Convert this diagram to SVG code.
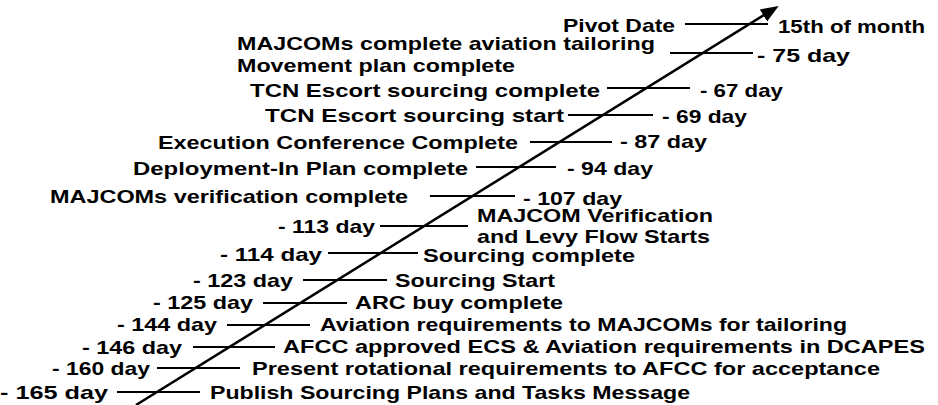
<svg xmlns="http://www.w3.org/2000/svg" width="938" height="405" viewBox="0 0 938 405">
<style>
text{font-family:"Liberation Sans",Arial,Helvetica,sans-serif;font-weight:bold;font-size:19px;fill:#000}
.tick{stroke:#000;stroke-width:2}
.axis{stroke:#000;stroke-width:2.5;fill:none}
</style>
<defs>
<marker id="ah" markerUnits="userSpaceOnUse" markerWidth="19" markerHeight="15" refX="6" refY="7" orient="auto">
<path d="M0,0 L18,7 L0,14 z" fill="#000"/>
</marker>
</defs>
<rect width="938" height="405" fill="#fff"/>
<g id="connectors">
<line class="axis" x1="136" y1="405" x2="768.5" y2="12.3" marker-end="url(#ah)"/>
<line class="tick" x1="685" y1="24" x2="768" y2="24"/>
<line class="tick" x1="670" y1="53" x2="753" y2="53"/>
<line class="tick" x1="607" y1="88" x2="690" y2="88"/>
<line class="tick" x1="568" y1="115" x2="653" y2="115"/>
<line class="tick" x1="530" y1="142" x2="612" y2="142"/>
<line class="tick" x1="476" y1="167" x2="556" y2="167"/>
<line class="tick" x1="430" y1="196" x2="515" y2="196"/>
<line class="tick" x1="380" y1="226" x2="468" y2="226"/>
<line class="tick" x1="328" y1="253" x2="418" y2="253"/>
<line class="tick" x1="303" y1="280" x2="387" y2="280"/>
<line class="tick" x1="263" y1="303" x2="347" y2="303"/>
<line class="tick" x1="227" y1="325" x2="310" y2="325"/>
<line class="tick" x1="193" y1="347" x2="275" y2="347"/>
<line class="tick" x1="157" y1="368" x2="240" y2="368"/>
<line class="tick" x1="117" y1="392" x2="200" y2="392"/>
</g>
<g id="pivot"><text x="563" y="32" textLength="112" lengthAdjust="spacingAndGlyphs">Pivot Date</text><text x="778" y="33" textLength="147" lengthAdjust="spacingAndGlyphs">15th of month</text></g>
<g id="d75"><text x="237" y="50" textLength="418" lengthAdjust="spacingAndGlyphs">MAJCOMs complete aviation tailoring</text><text x="237" y="72" textLength="278" lengthAdjust="spacingAndGlyphs">Movement plan complete</text><text x="757" y="62" textLength="93" lengthAdjust="spacingAndGlyphs">- 75 day</text></g>
<g id="d67"><text x="250" y="97" textLength="350" lengthAdjust="spacingAndGlyphs">TCN Escort sourcing complete</text><text x="700" y="97" textLength="83" lengthAdjust="spacingAndGlyphs">- 67 day</text></g>
<g id="d69"><text x="265" y="122" textLength="299" lengthAdjust="spacingAndGlyphs">TCN Escort sourcing start</text><text x="662" y="123" textLength="85" lengthAdjust="spacingAndGlyphs">- 69 day</text></g>
<g id="d87"><text x="158" y="149" textLength="360" lengthAdjust="spacingAndGlyphs">Execution Conference Complete</text><text x="620" y="148" textLength="87" lengthAdjust="spacingAndGlyphs">- 87 day</text></g>
<g id="d94"><text x="133" y="175" textLength="335" lengthAdjust="spacingAndGlyphs">Deployment-In Plan complete</text><text x="567" y="175" textLength="86" lengthAdjust="spacingAndGlyphs">- 94 day</text></g>
<g id="d107"><text x="50" y="203" textLength="358" lengthAdjust="spacingAndGlyphs">MAJCOMs verification complete</text><text x="523" y="205" textLength="99" lengthAdjust="spacingAndGlyphs">- 107 day</text></g>
<g id="d113"><text x="278" y="233" textLength="97" lengthAdjust="spacingAndGlyphs">- 113 day</text><text x="477" y="222" textLength="236" lengthAdjust="spacingAndGlyphs">MAJCOM Verification</text><text x="477" y="243" textLength="233" lengthAdjust="spacingAndGlyphs">and Levy Flow Starts</text></g>
<g id="d114"><text x="220" y="261" textLength="102" lengthAdjust="spacingAndGlyphs">- 114 day</text><text x="423" y="262" textLength="212" lengthAdjust="spacingAndGlyphs">Sourcing complete</text></g>
<g id="d123"><text x="193" y="287" textLength="100" lengthAdjust="spacingAndGlyphs">- 123 day</text><text x="395" y="287" textLength="160" lengthAdjust="spacingAndGlyphs">Sourcing Start</text></g>
<g id="d125"><text x="153" y="309" textLength="100" lengthAdjust="spacingAndGlyphs">- 125 day</text><text x="355" y="309" textLength="208" lengthAdjust="spacingAndGlyphs">ARC buy complete</text></g>
<g id="d144"><text x="117" y="331" textLength="100" lengthAdjust="spacingAndGlyphs">- 144 day</text><text x="320" y="331" textLength="527" lengthAdjust="spacingAndGlyphs">Aviation requirements to MAJCOMs for tailoring</text></g>
<g id="d146"><text x="82" y="354" textLength="100" lengthAdjust="spacingAndGlyphs">- 146 day</text><text x="283" y="353" textLength="642" lengthAdjust="spacingAndGlyphs">AFCC approved ECS &amp; Aviation requirements in DCAPES</text></g>
<g id="d160"><text x="52" y="375" textLength="98" lengthAdjust="spacingAndGlyphs">- 160 day</text><text x="252" y="375" textLength="628" lengthAdjust="spacingAndGlyphs">Present rotational requirements to AFCC for acceptance</text></g>
<g id="d165"><text x="0" y="399" textLength="108" lengthAdjust="spacingAndGlyphs">- 165 day</text><text x="210" y="399" textLength="480" lengthAdjust="spacingAndGlyphs">Publish Sourcing Plans and Tasks Message</text></g>
</svg>
